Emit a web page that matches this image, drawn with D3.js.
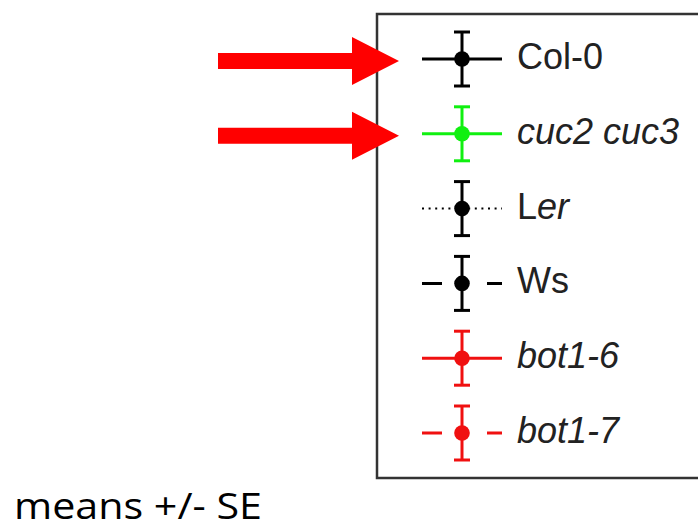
<!DOCTYPE html>
<html><head><meta charset="utf-8">
<script src="https://cdn.jsdelivr.net/npm/d3@7"></script>
<style>html,body{margin:0;padding:0;background:#fff;}svg{display:block;}</style>
</head><body><svg id="c" width="698" height="531"></svg>
<script>
// Legend entries (genotypes)
const genotypes = ["Col-0", "cuc2 cuc3", "Ler", "Ws", "bot1-6", "bot1-7"];
// label segments: [text, italic?]
const labelParts = [
  [["Col-0", false]],
  [["cuc2 cuc3", true]],
  [["L", false], ["er", true]],
  [["Ws", false]],
  [["bot1-6", true]],
  [["bot1-7", true]]
];
const seriesColors = ["#000000", "#10f010", "#000000", "#000000", "#f01010", "#f01010"];
const lineStyles = ["solid", "solid", "dotted", "dashed", "solid", "dashed"];
// Highlighted entries (arrows point at them)
const highlighted = ["Col-0", "cuc2 cuc3"];
const note = "means +/- SE";

const svg = d3.select("#c");

const y = d3.scalePoint().domain(genotypes).range([59, 433]);
const boxX = 377, boxTop = 14, boxBottom = 478;

svg.append("rect").attr("x", boxX).attr("y", boxTop)
  .attr("width", 400).attr("height", boxBottom - boxTop)
  .attr("fill", "#fff").attr("stroke", "#333").attr("stroke-width", 2.5);

const cx = 462, x0 = 422, x1 = 502, errHalf = 27, capHalf = 8;
const dash = {solid: null, dotted: "2 4.6", dashed: "20 45"};

const g = svg.selectAll("g.entry").data(genotypes).join("g").attr("class", "entry");
g.append("line").attr("x1", x0).attr("x2", x1)
  .attr("y1", d => y(d)).attr("y2", d => y(d))
  .attr("stroke", (d, i) => seriesColors[i])
  .attr("stroke-width", (d, i) => lineStyles[i] === "dotted" ? 2 : 3)
  .attr("stroke-dasharray", (d, i) => dash[lineStyles[i]]);
g.append("line").attr("x1", cx).attr("x2", cx)
  .attr("y1", d => y(d) - errHalf).attr("y2", d => y(d) + errHalf)
  .attr("stroke", (d, i) => seriesColors[i]).attr("stroke-width", 3);
[-1, 1].forEach(s => {
  g.append("line").attr("x1", cx - capHalf).attr("x2", cx + capHalf)
    .attr("y1", d => y(d) + s * errHalf).attr("y2", d => y(d) + s * errHalf)
    .attr("stroke", (d, i) => seriesColors[i]).attr("stroke-width", 3);
});
g.append("circle").attr("cx", cx).attr("cy", d => y(d)).attr("r", 7.8)
  .attr("fill", (d, i) => seriesColors[i]);

const txt = g.append("text").attr("x", 517).attr("y", d => y(d) + 10)
  .attr("font-family", "Liberation Sans, Arial, sans-serif")
  .attr("font-size", 36).attr("fill", "#222");
txt.each(function(d, i) {
  const t = d3.select(this);
  labelParts[i].forEach(([s, it]) => {
    t.append("tspan").attr("font-style", it ? "italic" : "normal").text(s);
  });
});

// red arrows
const arrow = (ty) => {
  const sh = 8, hh = 24;
  return `M218,${ty - sh} L352,${ty - sh} L352,${ty - hh} L399,${ty} L352,${ty + hh} L352,${ty + sh} L218,${ty + sh} Z`;
};
svg.selectAll("path.arrow").data(highlighted).join("path").attr("class", "arrow")
  .attr("d", d => arrow(y(d) + 2)).attr("fill", "#ff0000");

svg.append("text").attr("x", 14).attr("y", 519)
  .attr("font-family", "Open Sans, sans-serif").attr("font-size", 37)
  .attr("textLength", 248).attr("lengthAdjust", "spacingAndGlyphs")
  .attr("fill", "#000").text(note);
</script></body></html>
